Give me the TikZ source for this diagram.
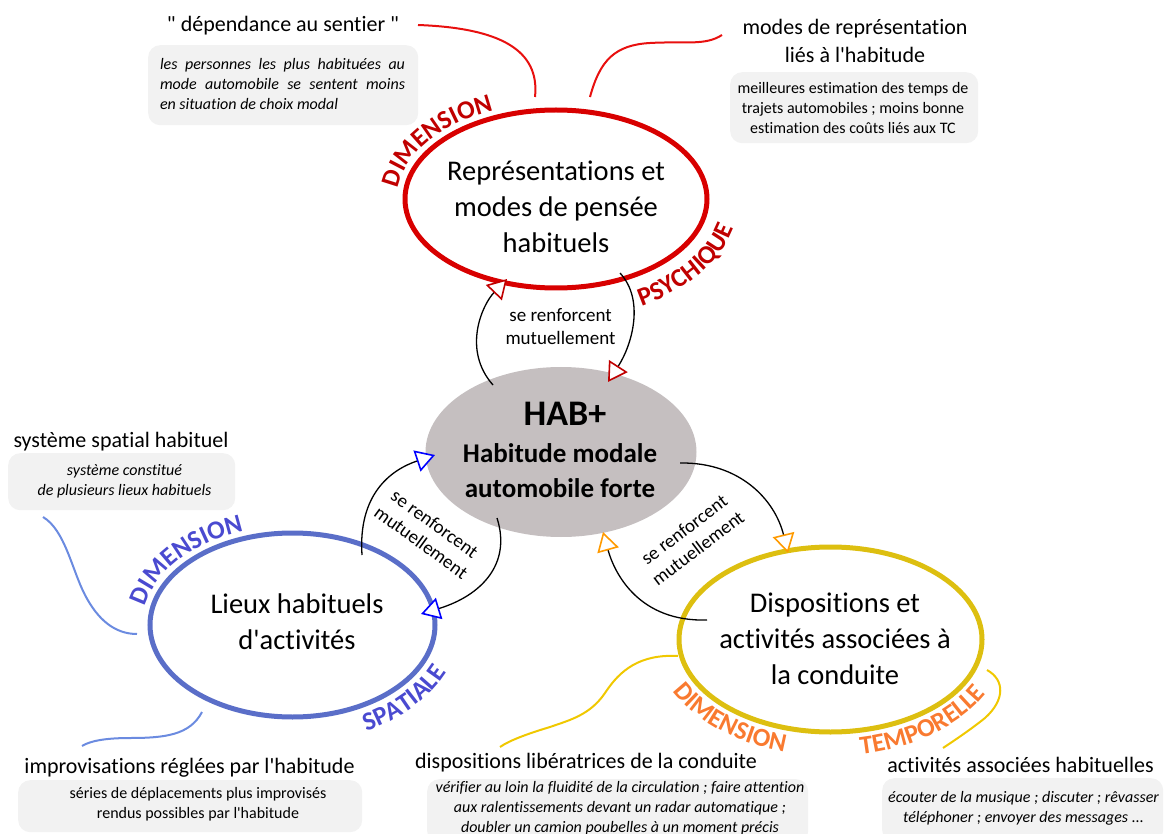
\documentclass[tikz,border=0pt]{standalone}
\usepackage{fontspec}
\setmainfont{Carlito}[Ligatures={TeXOff,CommonOff}]
\usetikzlibrary{shapes.geometric,arrows.meta,decorations.text,calc}
\definecolor{ellred}{HTML}{D80000}
\definecolor{txtred}{HTML}{C00000}
\definecolor{linered}{HTML}{E8100F}
\definecolor{trired}{HTML}{C00000}
\definecolor{ellblue}{HTML}{5A6EC8}
\definecolor{txtblue}{HTML}{4A4AD0}
\definecolor{lineblue}{HTML}{6B8BE0}
\definecolor{triblue}{HTML}{0000FF}
\definecolor{ellyel}{HTML}{DDBF10}
\definecolor{txtorange}{HTML}{F97A30}
\definecolor{lineyel}{HTML}{F0C800}
\definecolor{triorange}{HTML}{FF9A00}
\definecolor{hubgray}{HTML}{C5BFC0}
\definecolor{boxgray}{HTML}{F2F2F2}
\begin{document}
\begin{tikzpicture}[x=1pt, y=-1pt,
  ell/.style={ellipse, line width=5pt, inner sep=0pt},
  big/.style={font=\fontsize{28.5}{36}\selectfont, align=center, inner sep=0pt},
  hubtxt/.style={font=\bfseries\fontsize{27}{32}\selectfont, anchor=base, inner sep=0pt},
  mut/.style={font=\fontsize{19}{23}\selectfont, align=center, inner sep=0pt},
  ttl/.style={font=\fontsize{22}{27}\selectfont, anchor=base, inner sep=0pt},
  gbox/.style={fill=boxgray, rounded corners=12pt, inner sep=0pt, anchor=north west},
  btxt/.style={font=\fontsize{16}{20}\selectfont, align=center, inner sep=0pt},
  arcline/.style={line width=1.3pt, black},
  wave/.style={line width=2pt},
  redtip/.style={-{Triangle[color=trired, fill=white, length=19pt, width=22pt, line width=1.6pt]}},
  bluetip/.style={-{Triangle[color=triblue, fill=white, length=19pt, width=22pt, line width=1.6pt]}},
  orangetip/.style={-{Triangle[color=triorange, fill=white, length=19pt, width=22pt, line width=1.6pt]}},
]
\useasboundingbox (0,0) rectangle (1165,834);
\clip (0,0) rectangle (1165,834);

% ---------- gray boxes ----------
\node[gbox, minimum width=270, minimum height=80] (b1) at (148,45) {};
\node[gbox, minimum width=248, minimum height=71] (b2) at (730,72) {};
\node[gbox, minimum width=227, minimum height=57] (b3) at (8,453) {};
\node[gbox, minimum width=344, minimum height=52] (b4) at (18,780) {};
\node[gbox, minimum width=381, minimum height=64] (b5) at (427,779) {};
\node[gbox, minimum width=281, minimum height=64] (b6) at (882,778) {};

\node[btxt, font=\itshape\fontsize{16}{20}\selectfont] (bt1) at (282.5,84.5)
  {\makebox[245pt][s]{les personnes les plus habituées au}\\
   \makebox[245pt][s]{mode automobile se sentent moins}\\
   \makebox[245pt][l]{en situation de choix modal}};
\node[btxt] (bt2) at (853,108.25) {meilleures estimation des temps de\\trajets automobiles ; moins bonne\\estimation des coûts liés aux TC};
\node[btxt, font=\itshape\fontsize{16}{20}\selectfont] (bt3) at (124.5,481.25) {système constitué\\de plusieurs lieux habituels};
\node[btxt] (bt4) at (198,804.25) {séries de déplacements plus improvisés\\rendus possibles par l'habitude};
\node[btxt, font=\itshape\fontsize{16}{20}\selectfont] (bt5) at (620,807.75) {vérifier au loin la fluidité de la circulation ; faire attention\\aux ralentissements devant un radar automatique ;\\doubler un camion poubelles à un moment précis};
\node[btxt, font=\itshape\fontsize{16}{20}\selectfont] (bt6) at (1023.5,808.25) {écouter de la musique ; discuter ; rêvasser\\téléphoner ; envoyer des messages ...};

% ---------- titles ----------
\node[ttl] (t1) at (283,32) {" dépendance au sentier "};
\node[ttl] (t2a) at (855,35) {modes de représentation};
\node[ttl] (t2b) at (855,63) {liés à l'habitude};
\node[ttl] (t3) at (121,447) {système spatial habituel};
\node[ttl] (t4) at (189.5,773) {improvisations réglées par l'habitude};
\node[ttl] (t5) at (586,768) {dispositions libératrices de la conduite};
\node[ttl] (t6) at (1020.5,772) {activités associées habituelles};

% ---------- ellipses ----------
\node[ellipse, fill=hubgray, minimum width=271, minimum height=170, inner sep=0pt] (hub) at (561,452) {};
\node[ell, draw=ellred, minimum width=302, minimum height=178] (rep) at (556,199) {};
\node[ell, draw=ellblue, minimum width=285, minimum height=184] (lieux) at (292.5,625) {};
\node[ell, draw=ellyel, minimum width=303, minimum height=185] (disp) at (830.5,639.5) {};

\node[big] (repT) at (556,207) {Représentations et\\modes de pensée\\habituels};
\node[big] (lieuxT) at (297,621.5) {Lieux habituels\\d'activités};
\node[big] (dispT) at (835,638.5) {Dispositions et\\activités associées à\\la conduite};

\node[hubtxt, font=\bfseries\fontsize{36}{40}\selectfont] (hab1) at (565,425) {HAB+};
\node[hubtxt] (hab2) at (560,462) {Habitude modale};
\node[hubtxt] (hab3) at (560,497) {automobile forte};

% ---------- arc labels ----------
\path[decorate, decoration={text along path, text align=center, text color=txtred,
  text={|\bfseries\fontsize{26}{30}\selectfont|DIMENSION}}]
  ($(rep.center)+(155:158.5 and 96.5)$) arc[start angle=155, end angle=267, x radius=158.5, y radius=96.5];
\path[decorate, decoration={text along path, text align=center, text color=txtred,
  text={|\bfseries\fontsize{26}{30}\selectfont|PSYCHIQUE}}]
  ($(rep.center)+(80:183 and 121)$) arc[start angle=80, end angle=-12, x radius=183, y radius=121];
\path[decorate, decoration={text along path, text align=center, text color=txtblue,
  text={|\bfseries\fontsize{26}{30}\selectfont|DIMENSION}}]
  ($(lieux.center)+(160:150 and 99.5)$) arc[start angle=160, end angle=272, x radius=150, y radius=99.5];
\path[decorate, decoration={text along path, text align=center, text color=txtblue,
  text={|\bfseries\fontsize{26}{30}\selectfont|SPATIALE}}]
  ($(lieux.center)+(85:168 and 118)$) arc[start angle=85, end angle=-5, x radius=168, y radius=118];
\path[decorate, decoration={text along path, text align=center, text color=txtorange,
  text={|\bfseries\fontsize{26}{30}\selectfont|DIMENSION}}]
  ($(disp.center)+(183:175.5 and 116.5)$) arc[start angle=183, end angle=85, x radius=175.5, y radius=116.5];
\path[decorate, decoration={text along path, text align=center, text color=txtorange,
  text={|\bfseries\fontsize{26}{30}\selectfont|TEMPORELLE}}]
  ($(disp.center)+(98:175.5 and 116.5)$) arc[start angle=98, end angle=2, x radius=175.5, y radius=116.5];

% ---------- mutual reinforcement ----------
\node[mut] (m1) at (560.5,326.5) {se renforcent\\mutuellement};
\node[mut, rotate=-36] (m2) at (428,533) {se renforcent\\mutuellement};
\node[mut, rotate=37] (m3) at (691,539) {se renforcent\\mutuellement};

\coordinate (a1s) at (493,385); \coordinate (a1e) at (507,279);
\coordinate (a2s) at (620,273); \coordinate (a2e) at (608,382);
\coordinate (a3s) at (362,555); \coordinate (a3e) at (435,455);
\coordinate (a4s) at (497,518); \coordinate (a4e) at (421,614);
\coordinate (a5s) at (680,463); \coordinate (a5e) at (788,553);
\coordinate (a6s) at (707,620); \coordinate (a6e) at (603,532);
\draw[arcline, redtip] (a1s) .. controls (462,350) and (482,305) .. (a1e);
\draw[arcline, redtip] (a2s) .. controls (645,300) and (632,345) .. (a2e);
\draw[arcline, bluetip] (a3s) .. controls (358,495) and (390,470) .. (a3e);
\draw[arcline, bluetip] (a4s) .. controls (512,565) and (480,596) .. (a4e);
\draw[arcline, orangetip] (a5s) .. controls (740,462) and (775,500) .. (a5e);
\draw[arcline, orangetip] (a6s) .. controls (640,622) and (615,575) .. (a6e);

% ---------- wavy connectors ----------
\coordinate (w1a) at (418,25);  \coordinate (w1b) at (535,97);
\coordinate (w2a) at (590,97);  \coordinate (w2b) at (722,35);
\coordinate (w3a) at (43,517);  \coordinate (w3b) at (137,634);
\coordinate (w4a) at (202,712); \coordinate (w4b) at (82,746);
\coordinate (w5a) at (678,656); \coordinate (w5b) at (500,747);
\coordinate (w6a) at (987,670); \coordinate (w6b) at (943,748);
\draw[wave, linered] (w1a) .. controls (500,28) and (540,50) .. (w1b);
\draw[wave, linered] (w2a) .. controls (600,60) and (615,45) .. (650,43) .. controls (685,41) and (705,46) .. (w2b);
\draw[wave, lineblue] (w3a) .. controls (65,530) and (72,570) .. (85,595) .. controls (98,620) and (115,634) .. (w3b);
\draw[wave, lineblue] (w4a) .. controls (190,735) and (165,738) .. (130,738) .. controls (105,738) and (90,741) .. (w4b);
\draw[wave, lineyel] (w5a) .. controls (640,654) and (620,670) .. (605,693) .. controls (590,715) and (570,720) .. (550,727) .. controls (530,733) and (510,740) .. (w5b);
\draw[wave, lineyel] (w6a) .. controls (1005,680) and (1005,700) .. (985,718) .. controls (970,730) and (955,740) .. (w6b);
\end{tikzpicture}
\end{document}
